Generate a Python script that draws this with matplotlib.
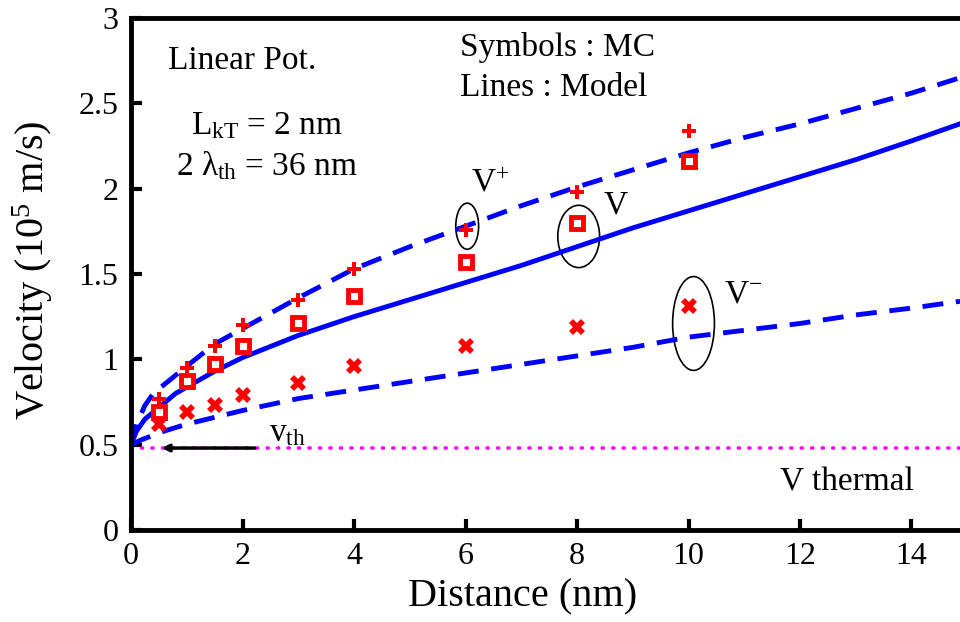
import matplotlib
matplotlib.use("Agg")
import matplotlib.pyplot as plt
from matplotlib.patches import Ellipse

plt.rcParams['font.family'] = ['Liberation Serif', 'DejaVu Serif']
plt.rcParams['mathtext.fontset'] = 'custom'
plt.rcParams['mathtext.rm'] = 'Liberation Serif'
plt.rcParams['mathtext.it'] = 'Liberation Serif:italic'

# Monte Carlo symbols
mc_x = [0.5, 1, 1.5, 2, 3, 4, 6, 8, 10]
mc_vplus = [0.765, 0.95, 1.08, 1.20, 1.35, 1.53, 1.76, 1.98, 2.34]
mc_v = [0.69, 0.87, 0.97, 1.08, 1.21, 1.37, 1.57, 1.80, 2.16]
mc_vminus = [0.62, 0.69, 0.735, 0.79, 0.86, 0.96, 1.08, 1.19, 1.31]

# model lines
vp_x = [0, 0.1, 0.25, 0.4, 0.7, 1.0, 1.5, 2, 3, 4, 5, 6, 7, 8, 9, 10, 11, 12, 13, 14, 14.87]
vp_y = [0.5, 0.62, 0.73, 0.80, 0.88, 0.96, 1.09, 1.18, 1.36, 1.53, 1.66, 1.78, 1.90, 2.01, 2.11, 2.21, 2.30, 2.38, 2.47, 2.56, 2.65]
v_x = [0, 0.1, 0.25, 0.4, 0.8, 1.5, 2, 3, 4, 5, 6, 7, 8, 9, 10, 11, 12, 13, 14, 14.87]
v_y = [0.5, 0.58, 0.65, 0.69, 0.80, 0.93, 1.01, 1.14, 1.25, 1.35, 1.45, 1.55, 1.66, 1.77, 1.87, 1.97, 2.07, 2.17, 2.28, 2.38]
vm_x = [0, 0.2, 0.6, 1, 2, 3, 4, 5, 6, 7, 8, 9, 10, 11, 12, 13, 14, 14.87]
vm_y = [0.5, 0.53, 0.58, 0.62, 0.70, 0.77, 0.82, 0.87, 0.92, 0.97, 1.02, 1.07, 1.13, 1.17, 1.21, 1.26, 1.30, 1.34]

v_thermal = 0.48
xticks = [0, 2, 4, 6, 8, 10, 12, 14]
yticks = [0, 0.5, 1, 1.5, 2, 2.5, 3]
ytick_labels = ['0', '0.5', '1', '1.5', '2', '2.5', '3']

fig = plt.figure(figsize=(9.6, 6.22), dpi=100)
ax = fig.add_axes([0.1365, 0.148, 0.8635, 0.823])

blue = '#0000ff'
dash = (0, (4.3, 2.6))
ax.plot(vp_x, vp_y, color=blue, lw=3.5, linestyle=dash)
ax.plot(v_x, v_y, color=blue, lw=3.5)
ax.plot(vm_x, vm_y, color=blue, lw=3.5, linestyle=dash)
ax.plot([0, 14.87], [v_thermal, v_thermal], color='#ff00ff', lw=2.6,
        linestyle=(0, (0.3, 2.6)), dash_capstyle='round')

ax.plot(mc_x, mc_vplus, 'P', color='red', ms=10, mew=0, linestyle='none')
ax.plot(mc_x, mc_v, 's', mfc='white', mec='red', ms=8, mew=3.5, linestyle='none')
ax.plot(mc_x, mc_vminus, 'X', color='red', ms=11, mew=0, linestyle='none')

# circles around groups
for cx, cy, w, h in [(6.03, 1.78, 0.41, 0.27), (8.03, 1.72, 0.75, 0.365), (10.09, 1.21, 0.75, 0.55)]:
    ax.add_patch(Ellipse((cx, cy), w, h, fill=False, ec='black', lw=1.2))

fs = 24
ax.text(6.1, 2.03, 'V$^{+}$', fontsize=fs, va='center')
ax.text(8.48, 1.90, 'V', fontsize=fs, va='center')
ax.text(10.63, 1.38, 'V$^{-}$', fontsize=fs, va='center')

ax.annotate('', xy=(0.5, v_thermal), xytext=(2.27, v_thermal),
            arrowprops=dict(arrowstyle='->', color='black', lw=2.5))
ax.text(2.47, 0.57, 'v$_\\mathrm{th}$', fontsize=fs, va='center')

ax.text(0.66, 2.75, 'Linear Pot.', fontsize=fs, va='center')
ax.text(2.44, 2.37, 'L$_\\mathrm{kT}$ = 2 nm', fontsize=fs, va='center', ha='center')
ax.text(2.44, 2.135, '2 λ$_\\mathrm{th}$ = 36 nm', fontsize=fs, va='center', ha='center')
ax.text(5.9, 2.83, 'Symbols : MC', fontsize=fs, va='center')
ax.text(5.9, 2.59, 'Lines : Model', fontsize=fs, va='center')
ax.text(11.65, 0.28, 'V thermal', fontsize=fs, va='center')

ax.set_xlim(0, 14.87)
ax.set_ylim(0, 3)
ax.set_xticks(xticks)
ax.set_yticks(yticks)
ax.set_yticklabels(ytick_labels)
ax.tick_params(direction='in', length=8, width=3, labelsize=23, pad=9)
ax.spines['right'].set_visible(False)
for s in ['left', 'bottom', 'top']:
    ax.spines[s].set_linewidth(3.5)

ax.set_xlabel('Distance (nm)', fontsize=29)
ax.xaxis.set_label_coords(0.472, -0.095)
ax.set_ylabel('Velocity (10$^5$ m/s)', fontsize=29)
ax.yaxis.set_label_coords(-0.092, 0.508)

fig.savefig('out.png', dpi=100)
